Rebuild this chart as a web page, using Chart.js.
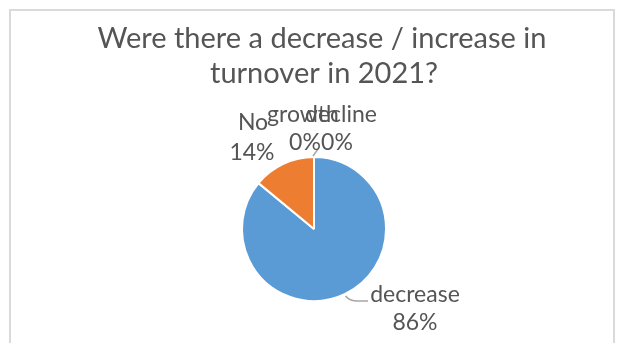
<!DOCTYPE html>
<html>
<head>
<meta charset="utf-8">
<script src="https://cdn.jsdelivr.net/npm/chart.js@4/dist/chart.umd.min.js"></script>
<style>
  html, body { margin: 0; padding: 0; background: #ffffff; }
  #wrap { width: 626px; height: 343px; position: relative; }
</style>
</head>
<body>
<div id="wrap"><canvas id="c" width="626" height="343"></canvas></div>
<script>
// ---- data ----
const categories = ["decrease", "No", "growth", "decline"];
const values = [86, 14, 0, 0];
const percentLabels = ["86%", "14%", "0%", "0%"];
const titleLines = ["Were there a decrease / increase in", "turnover in 2021?"];
const sliceColors = ["#5B9BD5", "#ED7D31", "#A5A5A5", "#FFC000"];

// ---- layout (label placement relative to pie centre) ----
const labelLayout = [
  { dx: 101, pdx: 101, dy: 73, gap: 28 },   // decrease
  { dx: -61, pdx: -62, dy: -99, gap: 30 },  // No
  { dx: -11, pdx: -9,  dy: -107, gap: 28 }, // growth
  { dx: 27,  pdx: 23,  dy: -107, gap: 28 }  // decline
];

const textColor = "#555555";
const fontFamily = "Lato, 'Open Sans', sans-serif";

const decorPlugin = {
  id: "decor",
  beforeDraw(chart) {
    const ctx = chart.ctx;
    ctx.save();
    ctx.fillStyle = "#ffffff";
    ctx.fillRect(0, 0, chart.width, chart.height);
    ctx.strokeStyle = "#DADADA";
    ctx.lineWidth = 2;
    ctx.beginPath();
    ctx.moveTo(10, 360);
    ctx.lineTo(10, 10);
    ctx.lineTo(614, 10);
    ctx.lineTo(614, 360);
    ctx.stroke();
    ctx.restore();
  },
  afterDraw(chart) {
    const ctx = chart.ctx;
    const meta = chart.getDatasetMeta(0);
    const arc0 = meta.data[0];
    const cx = arc0.x, cy = arc0.y, r = arc0.outerRadius;
    ctx.save();
    // title
    ctx.fillStyle = textColor;
    ctx.textAlign = "center";
    ctx.textBaseline = "alphabetic";
    ctx.font = "29px " + fontFamily;
    ctx.fillText(titleLines[0], 322, 48);
    ctx.fillText(titleLines[1], 324, 83);

    // leader lines
    ctx.strokeStyle = "#A6A6A6";
    ctx.lineWidth = 1.5;
    meta.data.forEach((arc, i) => {
      const mid = (arc.startAngle + arc.endAngle) / 2;
      const ex = cx + Math.cos(mid) * (r + 2);
      const ey = cy + Math.sin(mid) * (r + 2);
      ctx.beginPath();
      if (i === 0) {
        ctx.moveTo(ex, ey);
        ctx.quadraticCurveTo(ex + 4, ey + 5, ex + 12, ey + 5);
        ctx.lineTo(cx + labelLayout[i].dx - 47, ey + 5);
        ctx.stroke();
      } else if (i === 2) {
        ctx.moveTo(ex - 1, ey + 1);
        ctx.lineTo(ex + 4, ey - 6);
        ctx.stroke();
      }
    });

    // labels
    ctx.font = "23px " + fontFamily;
    ctx.fillStyle = textColor;
    meta.data.forEach((arc, i) => {
      const L = labelLayout[i];
      const ly = cy + L.dy;
      ctx.fillText(categories[i], cx + L.dx, ly);
      ctx.fillText(percentLabels[i], cx + L.pdx, ly + L.gap);
    });
    ctx.restore();
  }
};

new Chart(document.getElementById("c"), {
  type: "pie",
  data: {
    labels: categories,
    datasets: [{
      data: values,
      backgroundColor: sliceColors,
      borderColor: "#ffffff",
      borderWidth: 2,
      radius: 72
    }]
  },
  options: {
    responsive: false,
    animation: false,
    rotation: 0,
    layout: { padding: { top: 115, left: 2, right: 0, bottom: 0 } },
    plugins: {
      legend: { display: false },
      title: { display: false },
      tooltip: { enabled: false }
    }
  },
  plugins: [decorPlugin]
});
</script>
</body>
</html>
